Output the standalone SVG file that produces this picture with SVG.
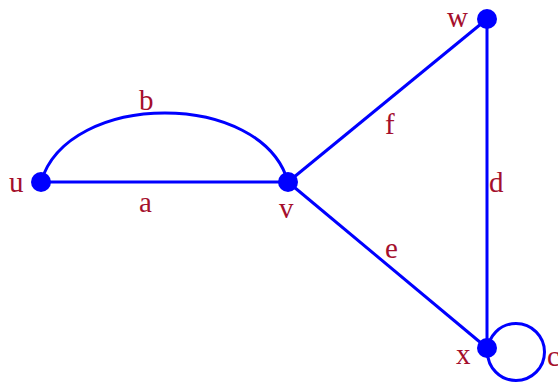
<svg xmlns="http://www.w3.org/2000/svg" width="558" height="385" viewBox="0 0 558 385">
<style>
.e{stroke:#0000ff;stroke-width:3;fill:none}
.n{fill:#0000ff}
text{font-family:"Liberation Serif","Times New Roman",serif;font-size:29px;fill:#a50f2d}
</style>
<rect width="558" height="385" fill="#ffffff"/>
<g id="connectors">
<path class="e" d="M41,182 H288"/>
<path class="e" d="M41,182 C68,90 262,90 288,182"/>
<path class="e" d="M288,182 L487,19"/>
<path class="e" d="M288,182 L487,348"/>
<path class="e" d="M487,19 V348"/>
<circle class="e" cx="516" cy="352" r="28.5"/>
</g>
<g id="u"><circle class="n" cx="41" cy="182" r="10"/><text x="9" y="192">u</text></g>
<g id="v"><circle class="n" cx="288" cy="182" r="10"/><text x="279" y="218">v</text></g>
<g id="w"><circle class="n" cx="487" cy="19" r="10"/><text x="447" y="27">w</text></g>
<g id="x"><circle class="n" cx="487" cy="348" r="10"/><text x="456" y="364">x</text></g>
<g id="labels">
<text x="139" y="212">a</text>
<text x="139" y="110">b</text>
<text x="547" y="366">c</text>
<text x="489" y="192">d</text>
<text x="385" y="258">e</text>
<text x="385" y="134">f</text>
</g>
</svg>
